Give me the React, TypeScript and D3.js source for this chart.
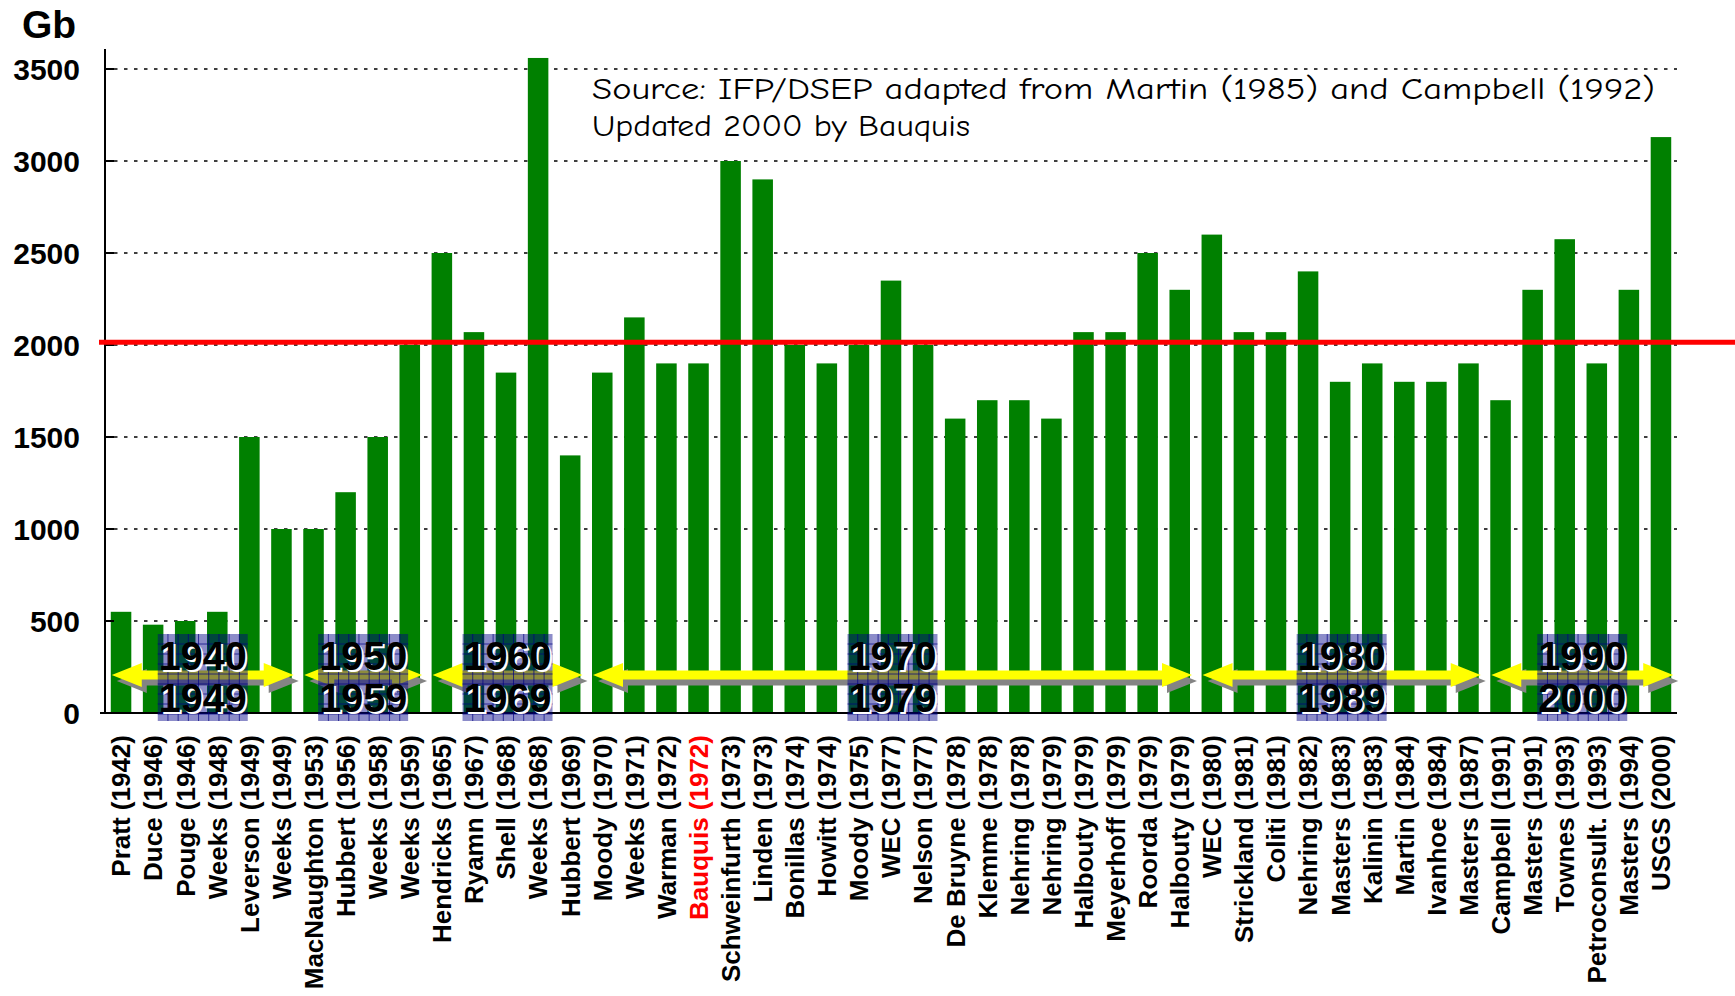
import React from 'react';
import * as d3 from 'd3';

const authors = ['Pratt','Duce','Pouge','Weeks','Leverson','Weeks','MacNaughton','Hubbert','Weeks','Weeks','Hendricks','Ryamn','Shell','Weeks','Hubbert','Moody','Weeks','Warman','Bauquis','Schweinfurth','Linden','Bonillas','Howitt','Moody','WEC','Nelson','De Bruyne','Klemme','Nehring','Nehring','Halbouty','Meyerhoff','Roorda','Halbouty','WEC','Strickland','Coliti','Nehring','Masters','Kalinin','Martin','Ivanhoe','Masters','Campbell','Masters','Townes','Petroconsult.','Masters','USGS'];
const years = [1942,1946,1946,1948,1949,1949,1953,1956,1958,1959,1965,1967,1968,1968,1969,1970,1971,1972,1972,1973,1973,1974,1974,1975,1977,1977,1978,1978,1978,1979,1979,1979,1979,1979,1980,1981,1981,1982,1983,1983,1984,1984,1987,1991,1991,1993,1993,1994,2000];
const values = [550,480,500,550,1500,1000,1000,1200,1500,2000,2500,2070,1850,3560,1400,1850,2150,1900,1900,3000,2900,2000,1900,2000,2350,2000,1600,1700,1700,1600,2070,2070,2500,2300,2600,2070,2070,2400,1800,1900,1800,1800,1900,1700,2300,2575,1900,2300,3130];
const highlighted = ['Bauquis'];
const yTicks = [0,500,1000,1500,2000,2500,3000,3500];
const referenceValue = 2015;
const decadeFrom = [1940,1950,1960,1970,1980,1990];
const decadeTo = [1949,1959,1969,1979,1989,2000];
const sourceLines = ['Source: IFP/DSEP adapted from Martin (1985) and Campbell (1992)', 'Updated 2000 by Bauquis'];
const unitLabel = 'Gb';

const W = 1735, H = 996;
const SANS = "'Liberation Sans', Arial, Helvetica, sans-serif";
const COMIC = "'Comic Sans MS', 'Comic Neue', 'DejaVu Sans Condensed', 'DejaVu Sans', sans-serif";

export default function App() {
  const ids = authors.map((_, i) => String(i));
  const x = d3.scaleBand<string>().domain(ids).range([105, 1677]).paddingInner(0.36).paddingOuter(0.18);
  const y = d3.scaleLinear().domain([0, 3500]).range([713, 69]);
  const bw = x.bandwidth();

  const arrowPath = (x1: number, x2: number, cy: number) => {
    const L = 30, Hh = 12, h = 4.5;
    return `M${x1},${cy} L${x1 + L},${cy - Hh} L${x1 + L},${cy - h} L${x2 - L},${cy - h} L${x2 - L},${cy - Hh} L${x2},${cy} L${x2 - L},${cy + Hh} L${x2 - L},${cy + h} L${x1 + L},${cy + h} L${x1 + L},${cy + Hh} Z`;
  };

  const decades = decadeFrom.map((from, k) => {
    const idx = years.map((yr, i) => (yr >= from && yr <= decadeTo[k] ? i : -1)).filter(i => i >= 0);
    const first = idx[0], last = idx[idx.length - 1];
    const x1 = (x(String(first)) as number) + 1;
    const x2 = (x(String(last)) as number) + bw + 2;
    return { from, to: decadeTo[k], x1, x2, cx: (x1 + x2) / 2 };
  });

  const cy = 675;
  const boxW = 90, boxTop = 634, boxBot = 721;

  return (
    <svg width={W} height={H} style={{ position: 'absolute', left: 0, top: 0, background: '#fff' }}>
      <rect x={0} y={0} width={W} height={H} fill="#fff" />
      {yTicks.filter(t => t > 0).map(t => (
        <line key={t} x1={114} x2={1677} y1={y(t)} y2={y(t)} stroke="#000" strokeWidth={1.6} strokeDasharray="3.5,6.5" />
      ))}
      {values.map((v, i) => (
        <rect key={i} x={x(String(i))} y={y(v)} width={bw} height={y(0) - y(v)} fill="#008000" />
      ))}
      <line x1={105} x2={105} y1={49} y2={714} stroke="#000" strokeWidth={2} />
      <line x1={100} x2={1677} y1={713} y2={713} stroke="#000" strokeWidth={2} />
      {yTicks.map(t => (
        <g key={t}>
          <line x1={105} x2={114} y1={y(t)} y2={y(t)} stroke="#000" strokeWidth={2} />
          <text x={80} y={y(t)} dy="0.38em" textAnchor="end" fontFamily={SANS} fontWeight="bold" fontSize={30} fill="#000">{t}</text>
        </g>
      ))}
      <text x={22} y={38} fontFamily={SANS} fontWeight="bold" fontSize={39} fill="#000">{unitLabel}</text>
      <line x1={99} x2={W} y1={y(referenceValue)} y2={y(referenceValue)} stroke="#ff0000" strokeWidth={5} />
      <text x={592} y={99} fontFamily={COMIC} fontSize={31} fill="#000" textLength={1063} lengthAdjust="spacingAndGlyphs">{sourceLines[0]}</text>
      <text x={592} y={136} fontFamily={COMIC} fontSize={31} fill="#000" textLength={378} lengthAdjust="spacingAndGlyphs">{sourceLines[1]}</text>
      {decades.map((d, k) => (
        <g key={'a' + k}>
          <path d={arrowPath(d.x1 + 5, d.x2 + 5, cy + 6)} fill="#848484" />
          <path d={arrowPath(d.x1, d.x2, cy)} fill="#ffff00" />
        </g>
      ))}
      {decades.map((d, k) => {
        const bx = d.cx - boxW / 2;
        const vLines = d3.range(1, 9).map(j => bx + j * 10.2);
        const hLines = d3.range(1, 9).map(j => boxTop + j * 10);
        return (
          <g key={'b' + k}>
            <rect x={bx} y={boxTop} width={boxW} height={boxBot - boxTop} fill="#000088" fillOpacity={0.45} />
            {vLines.map((lx, j) => <line key={'v' + j} x1={lx} x2={lx} y1={boxTop} y2={boxBot} stroke="#000080" strokeWidth={1} strokeOpacity={0.7} />)}
            {hLines.map((ly, j) => <line key={'h' + j} x1={bx} x2={bx + boxW} y1={ly} y2={ly} stroke="#000080" strokeWidth={1} strokeOpacity={0.7} />)}
            {[String(d.from), String(d.to)].map((s, j) => (
              <g key={'t' + j}>
                <text x={d.cx + 2} y={(j === 0 ? 670 : 711.5) + 2} textAnchor="middle" fontFamily={SANS} fontWeight="bold" fontSize={40} fill="#fff" textLength={88} lengthAdjust="spacingAndGlyphs">{s}</text>
                <text x={d.cx} y={j === 0 ? 670 : 711.5} textAnchor="middle" fontFamily={SANS} fontWeight="bold" fontSize={40} fill="#000" textLength={88} lengthAdjust="spacingAndGlyphs">{s}</text>
              </g>
            ))}
          </g>
        );
      })}
      {authors.map((a, i) => {
        const cx = (x(String(i)) as number) + bw / 2;
        return (
          <text key={'l' + i} transform={`translate(${cx},735) rotate(-90)`} dy="0.36em" textAnchor="end"
            fontFamily={SANS} fontWeight="bold" fontSize={26} fill={highlighted.includes(a) ? '#ff0000' : '#000'}>
            {`${a} (${years[i]})`}
          </text>
        );
      })}
    </svg>
  );
}
